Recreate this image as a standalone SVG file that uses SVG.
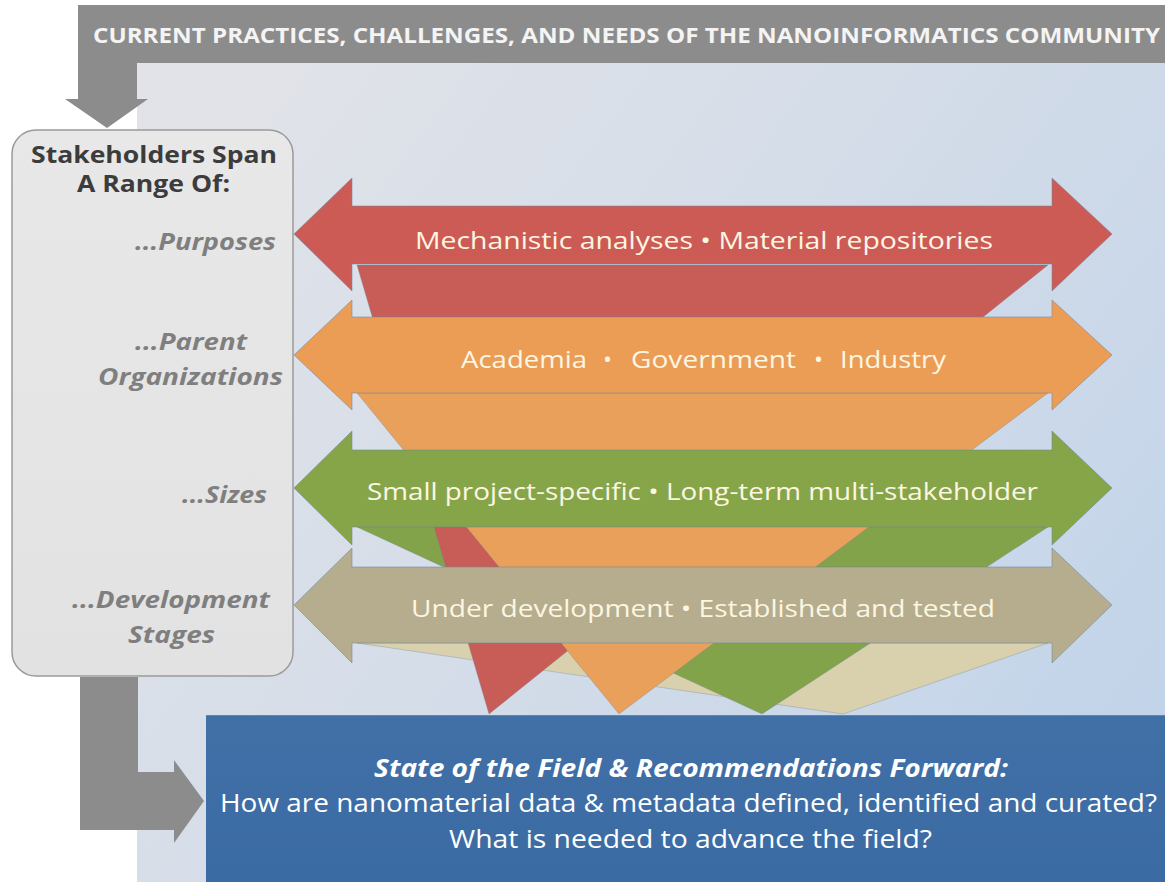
<svg xmlns="http://www.w3.org/2000/svg" width="1165" height="882" viewBox="0 0 1165 882">
  <defs>
    <linearGradient id="bgGrad" x1="0" y1="0.2" x2="1" y2="0.8">
      <stop offset="0" stop-color="#e1e3e8"/>
      <stop offset="0.5" stop-color="#d3dce8"/>
      <stop offset="1" stop-color="#c2d4ea"/>
    </linearGradient>
    <linearGradient id="panelGrad" x1="0" y1="0" x2="0" y2="1">
      <stop offset="0" stop-color="#e8e8e8"/>
      <stop offset="1" stop-color="#e2e2e2"/>
    </linearGradient>
    <linearGradient id="blueGrad" x1="0" y1="0" x2="0" y2="1">
      <stop offset="0" stop-color="#4070a6"/>
      <stop offset="1" stop-color="#3b6ba3"/>
    </linearGradient>
  </defs>
  <style>
    .flow { fill: #8c8c8c; }
    .panel { fill: url(#panelGrad); stroke: #9a9a9a; stroke-width: 1.5; }
    .head { font-family: "Open Sans", "Liberation Sans", sans-serif; font-weight: bold; }
    .title { fill: #f4f4f4; font-size: 22px; }
    .panelTitle { fill: #3c3c3c; font-size: 23px; }
    .label { fill: #7f7f7f; font-size: 23px; font-style: italic; }
    .band { stroke: #6f87a3; stroke-opacity: 0.55; stroke-width: 1; stroke-linejoin: miter; }
    .funnel { stroke: #6f87a3; stroke-opacity: 0.35; stroke-width: 1; }
    .bandText { font-family: "Open Sans", "Liberation Sans", sans-serif; fill: #fcf6e2; font-size: 24px; }
    .outText { font-family: "Open Sans", "Liberation Sans", sans-serif; fill: #ffffff; font-size: 25px; }
    .red { fill: #cd5b55; }
    .redT { fill: #c85c56; }
    .orange { fill: #eb9d56; }
    .orangeT { fill: #e9a05b; }
    .green { fill: #86a548; }
    .greenT { fill: #83a34a; }
    .tan { fill: #b5ad8d; }
    .beigeT { fill: #d9d1ae; }
  </style>

  <!-- backdrop -->
  <rect x="137" y="63" width="1028" height="819" fill="url(#bgGrad)"/>

  <!-- connectors: the two grey flow arrows -->
  <g id="connectors">
    <path class="flow" d="M78,5 H1165 V63 H137 V99 H148 L107,128 L65,99 H78 Z"/>
    <path class="flow" d="M80,677 H138 V772 H174 V760 L204,801 L174,843 V830 H80 Z"/>
  </g>

  <!-- top banner text -->
  <g id="banner">
    <text class="head title" x="93" y="43" textLength="1067" lengthAdjust="spacingAndGlyphs">CURRENT PRACTICES, CHALLENGES, AND NEEDS OF THE NANOINFORMATICS COMMUNITY</text>
  </g>

  <!-- stakeholder panel -->
  <g id="stakeholders">
    <rect class="panel" x="12" y="130" width="281" height="546" rx="24" ry="24"/>
    <text class="head panelTitle" x="31" y="163" textLength="246" lengthAdjust="spacingAndGlyphs">Stakeholders Span</text>
    <text class="head panelTitle" x="77" y="192" textLength="153" lengthAdjust="spacingAndGlyphs">A Range Of:</text>
    <text class="head label" x="135" y="250" textLength="141" lengthAdjust="spacingAndGlyphs">...Purposes</text>
    <text class="head label" x="135" y="350" textLength="112" lengthAdjust="spacingAndGlyphs">...Parent</text>
    <text class="head label" x="98" y="385" textLength="185" lengthAdjust="spacingAndGlyphs">Organizations</text>
    <text class="head label" x="182" y="503" textLength="85" lengthAdjust="spacingAndGlyphs">...Sizes</text>
    <text class="head label" x="72" y="608" textLength="198" lengthAdjust="spacingAndGlyphs">...Development</text>
    <text class="head label" x="128" y="643" textLength="87" lengthAdjust="spacingAndGlyphs">Stages</text>
  </g>

  <!-- funnels narrowing toward the outcome box -->
  <g id="funnels">
    <polygon class="funnel beigeT" points="357,643 1048,643 843,714"/>
    <polygon class="funnel greenT" points="357,527 1048,527 762,714"/>
    <polygon class="funnel redT" points="357,265 1048,265 489,714"/>
    <polygon class="funnel orangeT" points="357,393 1048,393 619,714"/>
  </g>

  <!-- double-headed range bands -->
  <g id="purposes">
    <polygon class="band red" points="294,234 352,178 352,206 1052,206 1052,178 1112,234 1052,291 1052,264 352,264 352,291"/>
    <text class="bandText" x="415" y="249" textLength="578" lengthAdjust="spacingAndGlyphs">Mechanistic analyses • Material repositories</text>
  </g>
  <g id="organizations">
    <polygon class="band orange" points="294,355 352,300 352,317 1052,317 1052,300 1112,355 1052,410 1052,393 352,393 352,410"/>
    <text class="bandText" y="368"><tspan x="461" textLength="126" lengthAdjust="spacingAndGlyphs">Academia</tspan><tspan x="603">•</tspan><tspan x="631" textLength="165" lengthAdjust="spacingAndGlyphs">Government</tspan><tspan x="814">•</tspan><tspan x="840" textLength="106" lengthAdjust="spacingAndGlyphs">Industry</tspan></text>
  </g>
  <g id="sizes">
    <polygon class="band green" points="294,488 352,431 352,450 1052,450 1052,431 1112,488 1052,545 1052,527 352,527 352,545"/>
    <text class="bandText" x="367" y="500" textLength="671" lengthAdjust="spacingAndGlyphs">Small project-specific • Long-term multi-stakeholder</text>
  </g>
  <g id="stages">
    <polygon class="band tan" points="294,605 352,548 352,567 1052,567 1052,548 1112,605 1052,663 1052,643 352,643 352,663"/>
    <text class="bandText" x="411" y="617" textLength="584" lengthAdjust="spacingAndGlyphs">Under development • Established and tested</text>
  </g>

  <!-- outcome box -->
  <g id="outcome">
    <rect x="206" y="715" width="959" height="167" fill="url(#blueGrad)"/>
    <line x1="206" y1="715.5" x2="1165" y2="715.5" stroke="#5b86b8" stroke-width="1"/>
    <text class="outText" x="374" y="777" font-weight="bold" font-style="italic" textLength="634" lengthAdjust="spacingAndGlyphs">State of the Field &amp; Recommendations Forward:</text>
    <text class="outText" x="220" y="812" textLength="937" lengthAdjust="spacingAndGlyphs">How are nanomaterial data &amp; metadata defined, identified and curated?</text>
    <text class="outText" x="449" y="848" textLength="483" lengthAdjust="spacingAndGlyphs">What is needed to advance the field?</text>
  </g>
</svg>
